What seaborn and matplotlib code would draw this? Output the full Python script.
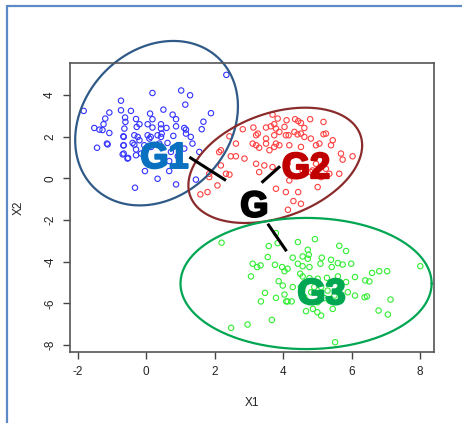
import numpy as np
import pandas as pd
import matplotlib
matplotlib.use("Agg")
import matplotlib.pyplot as plt
import matplotlib.patheffects as pe
import seaborn as sns
from matplotlib.lines import Line2D

# ---------------- data ----------------
g1_x = [2.34, 0.18, 1.02, 1.28, -0.74, 1.14, 0.50, 1.89, -1.83, -1.08, -0.45, -0.74,
        0.11, 0.77, -1.20, -0.62, -0.30, 0.18, 0.87, 1.67, -1.25, -0.61, -0.20, 0.04,
        0.43, 0.87, -1.37, -1.28, -1.08, -0.64, -0.28, 0.18, 0.59, 1.11, 1.16, 1.62,
        -0.67, -0.35, -0.25, 0.04, 0.45, 0.43, 0.79, 1.16, 1.30, -1.52, 0.13,
        -1.44, -1.13, -0.67, -0.40, -0.69, -0.55, -0.30, -0.01, 0.14, 0.38, 0.62,
        0.72, 0.92, 1.11, 1.35, 1.55, -0.04, 0.33, 0.67, 0.87, -0.33, 1.45, 0.67,
        -1.15, -0.66, -0.66, -0.66, -0.53, -0.20, -0.35, -0.30, -0.15, -0.06, 0.09,
        0.33, 0.43]
g1_y = [4.97, 4.10, 4.22, 3.99, 3.73, 3.54, 3.30, 3.13, 3.24, 3.16, 3.24, 3.27,
        3.11, 3.06, 2.87, 2.92, 2.85, 2.84, 2.84, 2.72, 2.60, 2.71, 2.60, 2.60,
        2.60, 2.50, 2.34, 2.32, 2.18, 2.39, 2.47, 2.44, 2.42, 2.42, 2.34, 2.36,
        2.02, 2.07, 1.99, 2.07, 2.15, 1.99, 2.04, 2.15, 1.99, 2.42, 1.99,
        1.47, 1.63, 1.58, 1.70, 1.15, 0.95, 1.11, 1.35, 1.51, 1.67, 1.70,
        1.27, 1.06, 1.43, 1.67, 1.27, 0.35, -0.02, 0.35, -0.29, -0.45, -0.06, 0.83,
        1.67, 1.99, 1.59, 1.19, 0.98, 1.83, 1.62, 1.39, 1.19, 1.59, 1.91,
        2.07, 2.39]

g2_x = [3.69, 4.10, 4.35, 4.44, 4.52, 4.79, 5.18, 3.13, 3.26, 3.50, 3.64, 3.74, 3.79,
        3.89, 4.04, 4.16, 4.33, 4.42, 4.62, 4.62, 5.18, 2.82, 2.43,
        2.18, 2.62, 2.87, 3.11, 3.21, 3.30, 3.50, 3.60, 3.74, 3.89, 4.18, 4.52, 4.96,
        5.40, 5.69, 6.03, 5.74, 5.64, 5.35, 3.21, 3.45, 3.69, 3.30, 2.18, 2.43, 1.84,
        2.08, 1.79, 1.58, 3.79, 4.44, 4.30, 4.52, 4.14, 5.01, 4.18, 4.57, 4.81, 4.96,
        5.25, 4.13, 4.28,
        3.21, 3.50, 3.74, 3.79, 4.08, 4.52, 4.81, 5.06, 5.25, 5.45, 2.62, 2.47, 2.13,
        2.33, 1.84, 4.08, 4.86, 5.11, 3.84]
g2_y = [3.06, 2.79, 2.84, 2.75, 2.66, 2.84, 2.71, 2.44, 2.15, 2.44, 2.50, 2.60, 2.39,
        2.23, 2.47, 2.07, 2.23, 2.11, 2.42, 1.99, 2.12, 2.36, 2.02,
        1.35, 1.06, 0.95, 1.67, 1.59, 1.47, 1.67, 1.35, 1.51, 1.59, 1.59, 1.51, 1.59,
        1.59, 1.19, 1.06, 0.90, 0.22, 0.22, 0.70, 0.62, 0.54, 0.30, 0.62, 0.18, 0.06,
        -0.34, -0.66, -0.77, -0.50, -0.66, -1.09, -1.22, -1.51, -0.42, -0.10, 0.38, 0.30, 0.70,
        0.46, 0.70, 1.11,
        2.07, 1.91, 2.07, 1.67, 2.07, 2.15, 1.91, 1.67, 2.15, 1.83, 1.67, 1.06, 1.26,
        0.22, 0.22, -0.66, 0.38, 0.06, 2.87]

g3_x = [2.20, 3.58, 3.79, 3.84, 4.43, 4.93, 4.72, 4.75, 4.57, 4.28, 3.55, 3.11, 3.24,
        3.34, 3.76, 3.97, 4.04, 4.13, 4.43, 4.57, 4.77, 4.72, 5.13, 5.09, 5.40, 5.42,
        5.60, 5.74, 5.64, 5.84, 5.99, 3.06, 4.50, 4.57, 4.77, 5.01, 5.11, 5.28, 5.60,
        5.84, 6.10, 6.40, 6.52, 6.60, 6.81, 7.04, 8.01, 3.87, 3.99, 4.28, 3.47, 3.79,
        4.04, 4.13, 4.25, 4.09, 3.35, 4.91, 5.21, 5.35, 5.50, 5.45, 5.89, 6.10, 6.38,
        6.45, 7.14, 6.79, 7.06, 4.67, 4.87, 5.00, 5.11, 3.67, 2.96, 2.48, 5.52,
        4.52, 4.82, 5.30, 5.64, 4.62, 5.01]
g3_y = [-3.09, -3.25, -2.63, -3.11, -3.06, -2.92, -3.43, -3.67, -3.75, -3.81, -3.78, -4.10, -4.26,
        -4.18, -4.15, -4.26, -4.46, -4.34, -4.10, -4.22, -4.26, -3.86, -3.81, -4.10, -3.91, -4.26,
        -4.07, -4.14, -3.24, -3.49, -4.10, -4.71, -4.58, -4.71, -4.79, -4.82, -5.22, -4.78, -4.71,
        -4.98, -4.74, -4.90, -4.95, -4.54, -4.46, -4.46, -4.22, -4.94, -5.15, -5.22, -5.50, -5.74,
        -5.58, -5.91, -5.91, -5.91, -5.91, -5.22, -5.75, -5.87, -5.63, -6.27, -5.47, -5.63, -5.71,
        -5.67, -5.82, -6.35, -6.54, -6.38, -6.27, -6.43, -6.59, -6.80, -7.02, -7.18, -7.87,
        -5.22, -5.47, -5.39, -5.31, -5.71, -5.95]

groups = ["G1", "G2", "G3"]
point_colors = ["#3333ff", "#ff4040", "#33ee33"]
ellipse_colors = ["#2f5a87", "#8b2c2c", "#00a651"]
label_colors = ["#0a70c0", "#c00000", "#00a651"]

# ellipses: centre and covariance-like shape (var_x, var_y, cov_xy)
ell_cx = [0.30, 3.77, 4.67]
ell_cy = [2.65, 0.625, -5.05]
ell_vx = [5.66, 6.45, 13.47]
ell_vy = [15.6, 7.67, 9.92]
ell_cxy = [1.93, 2.43, 0.0]

# labels
lab_text = ["G1", "G2", "G3", "G"]
lab_x = [0.53, 4.67, 5.12, 3.16]
lab_y = [0.96, 0.47, -5.58, -1.38]

# connecting segments (start x, start y, end x, end y)
seg_x0 = [1.26, 3.91, 3.55]
seg_y0 = [1.02, 0.58, -2.18]
seg_x1 = [2.33, 3.37, 4.10]
seg_y1 = [-0.10, -0.21, -3.50]

xticks = [-2, 0, 2, 4, 6, 8]
yticks = [-8, -6, -4, -2, 0, 2, 4]

# ---------------- drawing ----------------
sns.set_theme(style="white")
plt.rcParams["font.family"] = ["Liberation Sans", "DejaVu Sans"]

W, H = 462, 423
fig = plt.figure(figsize=(W / 100, H / 100), dpi=100)
ax = fig.add_axes([70 / W, 1 - 352 / H, (434 - 70) / W, (352 - 63) / H])

df = pd.DataFrame({
    "X1": g1_x + g2_x + g3_x,
    "X2": g1_y + g2_y + g3_y,
    "grp": ["G1"] * len(g1_x) + ["G2"] * len(g2_x) + ["G3"] * len(g3_x),
})
sns.scatterplot(data=df, x="X1", y="X2", hue="grp", hue_order=groups,
                palette=point_colors, marker="o", s=15, facecolors="none",
                linewidth=0.8, legend=False, ax=ax)
# make open circles
for coll in ax.collections:
    ec = coll.get_facecolors()
    coll.set_edgecolors(ec)
    coll.set_facecolors("none")

t = np.linspace(0, 2 * np.pi, 300)
for i in range(3):
    S = np.array([[ell_vx[i], ell_cxy[i]], [ell_cxy[i], ell_vy[i]]])
    L = np.linalg.cholesky(S)
    pts = L @ np.vstack([np.cos(t), np.sin(t)])
    ex = ell_cx[i] + pts[0]
    ey = ell_cy[i] + pts[1]
    sns.lineplot(x=ex, y=ey, sort=False, estimator=None, color=ellipse_colors[i],
                 linewidth=1.6, ax=ax, clip_on=False)

for i in range(3):
    ax.plot([seg_x0[i], seg_x1[i]], [seg_y0[i], seg_y1[i]], color="black",
            linewidth=2.2, solid_capstyle="butt", clip_on=False, zorder=4)

for i, txt in enumerate(lab_text):
    col = label_colors[i] if i < 3 else "black"
    ax.text(lab_x[i], lab_y[i], txt, color=col, fontsize=26, fontweight="bold",
            ha="center", va="center", zorder=5,
            path_effects=[pe.withStroke(linewidth=1.6, foreground=col)])

ax.set_xlim(-2.23, 8.41)
ax.set_ylim(-8.34, 5.54)
ax.set_xticks(xticks)
ax.set_yticks(yticks)
ax.set_xticklabels([str(v) for v in xticks])
ax.set_yticklabels([str(v) for v in yticks], rotation=90, va="center")
ax.tick_params(axis="both", which="both", direction="out", length=5, width=1,
               color="#444444", labelsize=8.5, labelcolor="#222222", pad=5,
               bottom=True, left=True)
for sp in ax.spines.values():
    sp.set_visible(True)
    sp.set_color("#555555")
    sp.set_linewidth(1.2)
ax.set_xlabel("X1", fontsize=8.5, color="#222222", labelpad=14)
ax.set_ylabel("X2", fontsize=8.5, color="#222222", labelpad=14)
ax.grid(False)

# outer frame (left and top edges)
fig.add_artist(Line2D([7 / W, 7 / W], [0, 1 - 6 / H], color="#5b8ac6", linewidth=1.6))
fig.add_artist(Line2D([7 / W, 1], [1 - 6 / H, 1 - 6 / H], color="#5b8ac6", linewidth=1.6))

fig.savefig("out.png", dpi=100)
